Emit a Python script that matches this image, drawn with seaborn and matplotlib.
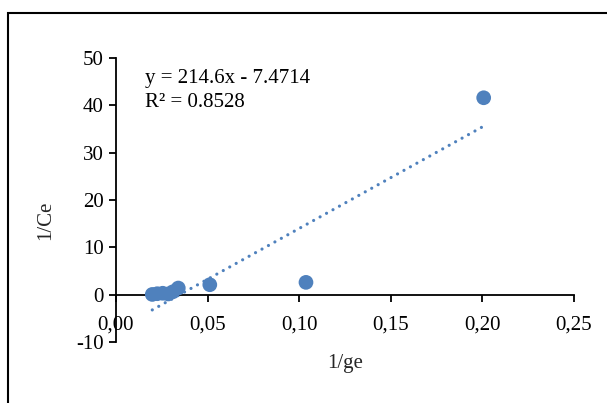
import numpy as np
import pandas as pd
import seaborn as sns
import matplotlib
matplotlib.use("Agg")
import matplotlib.pyplot as plt

# values
inv_ge = [0.0198, 0.0225, 0.0255, 0.0285, 0.0310, 0.0340, 0.0512, 0.1037, 0.2007]
inv_ce = [0.05, 0.20, 0.30, 0.15, 0.60, 1.40, 2.10, 2.60, 41.6]
slope = 214.6
intercept = -7.4714
r_squared = 0.8528
x_ticks = [0.00, 0.05, 0.10, 0.15, 0.20, 0.25]
x_tick_labels = ["0,00", "0,05", "0,10", "0,15", "0,20", "0,25"]
y_ticks = [-10, 0, 10, 20, 30, 40, 50]

blue = "#4F81BD"

df = pd.DataFrame({"inv_ge": inv_ge, "inv_ce": inv_ce})

sns.set_style("white")
plt.rcParams["font.family"] = ["Liberation Serif", "DejaVu Serif"]
plt.rcParams["axes.unicode_minus"] = False

fig = plt.figure(figsize=(6.07, 4.03), dpi=100)
ax = fig.add_axes([116 / 607, 1 - 342 / 403, 458 / 607, 284 / 403])

# linear trendline over the data range
xs = np.array([min(inv_ge), max(inv_ge)])
ax.plot(xs, slope * xs + intercept, color=blue, lw=2.3,
        linestyle=(0, (0.01, 2.3)), dash_capstyle="round", zorder=2)

sns.scatterplot(data=df, x="inv_ge", y="inv_ce", ax=ax, s=112, color=blue,
                edgecolor="none", linewidth=0, zorder=3, clip_on=False)

ax.set_xlim(0, 0.25)
ax.set_ylim(-10, 50)
ax.set_xticks(x_ticks)
ax.set_xticklabels(x_tick_labels)
ax.set_yticks(y_ticks)

ax.spines["top"].set_visible(False)
ax.spines["right"].set_visible(False)
ax.spines["bottom"].set_position(("data", 0))
for side in ["left", "bottom"]:
    ax.spines[side].set_linewidth(1.3)
    ax.spines[side].set_color("black")

ax.tick_params(axis="both", direction="out", length=5, width=1.3,
               colors="black", labelsize=15)
ax.tick_params(axis="x", pad=10, bottom=True)
ax.tick_params(axis="y", pad=4, left=True)

ax.set_xlabel("1/ge", fontsize=15)
ax.set_ylabel("1/Ce", fontsize=15)
ax.xaxis.set_label_coords(0.5, -0.042)
ax.yaxis.set_label_coords(-0.133, 0.43)

ax.text(0.063, 0.96, f"y = {slope}x - {abs(intercept)}\nR² = {r_squared}",
        transform=ax.transAxes, fontsize=15, va="top", ha="left",
        linespacing=1.3, color="black")

# chart frame, only left and top edges visible
frame = plt.Rectangle((8 / 607, -0.2), 1.5, 1.2 - 13 / 403, transform=fig.transFigure,
                      fill=False, edgecolor="black", lw=1.5)
fig.patches.append(frame)

fig.savefig("out.png", dpi=100)
